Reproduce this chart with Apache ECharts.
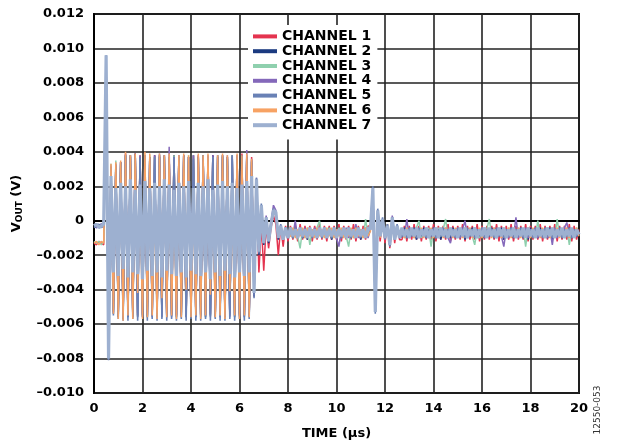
<!DOCTYPE html>
<html>
<head>
<meta charset="utf-8">
<script src="https://cdn.jsdelivr.net/npm/echarts@6/dist/echarts.min.js"></script>
<style>
  html, body { margin: 0; padding: 0; background: #fff; }
  #chart { width: 619px; height: 446px; }
</style>
</head>
<body>
<div id="chart"></div>
<script>
// time in µs, sampled every 0.1 µs
const TIME = [
  0, 0.1, 0.2, 0.3, 0.4, 0.5, 0.6, 0.7, 0.8, 0.9,
  1, 1.1, 1.2, 1.3, 1.4, 1.5, 1.6, 1.7, 1.8, 1.9,
  2, 2.1, 2.2, 2.3, 2.4, 2.5, 2.6, 2.7, 2.8, 2.9,
  3, 3.1, 3.2, 3.3, 3.4, 3.5, 3.6, 3.7, 3.8, 3.9,
  4, 4.1, 4.2, 4.3, 4.4, 4.5, 4.6, 4.7, 4.8, 4.9,
  5, 5.1, 5.2, 5.3, 5.4, 5.5, 5.6, 5.7, 5.8, 5.9,
  6, 6.1, 6.2, 6.3, 6.4, 6.5, 6.6, 6.7, 6.8, 6.9,
  7, 7.1, 7.2, 7.3, 7.4, 7.5, 7.6, 7.7, 7.8, 7.9,
  8, 8.1, 8.2, 8.3, 8.4, 8.5, 8.6, 8.7, 8.8, 8.9,
  9, 9.1, 9.2, 9.3, 9.4, 9.5, 9.6, 9.7, 9.8, 9.9,
  10, 10.1, 10.2, 10.3, 10.4, 10.5, 10.6, 10.7, 10.8, 10.9,
  11, 11.1, 11.2, 11.3, 11.4, 11.5, 11.6, 11.7, 11.8, 11.9,
  12, 12.1, 12.2, 12.3, 12.4, 12.5, 12.6, 12.7, 12.8, 12.9,
  13, 13.1, 13.2, 13.3, 13.4, 13.5, 13.6, 13.7, 13.8, 13.9,
  14, 14.1, 14.2, 14.3, 14.4, 14.5, 14.6, 14.7, 14.8, 14.9,
  15, 15.1, 15.2, 15.3, 15.4, 15.5, 15.6, 15.7, 15.8, 15.9,
  16, 16.1, 16.2, 16.3, 16.4, 16.5, 16.6, 16.7, 16.8, 16.9,
  17, 17.1, 17.2, 17.3, 17.4, 17.5, 17.6, 17.7, 17.8, 17.9,
  18, 18.1, 18.2, 18.3, 18.4, 18.5, 18.6, 18.7, 18.8, 18.9,
  19, 19.1, 19.2, 19.3, 19.4, 19.5, 19.6, 19.7, 19.8, 19.9,
  20
];

// VOUT per channel in mV (axis labels are shown in V)
const CH1 = [
  -1.3, -1.4, -1.2, -1.3, -1.4, 9.5, -7.9,
  3.1, -5.2, 3.2, -5.4, 3.4, -5.5, 3.9, -5.5, 3.8, -5.4, 3.9, -5.5, 3.8, -5.4, 3.8, -5.5, 3.7, -5.4, 3.8, -5.5, 3.8, -5.4, 3.8, -5.5, 3.7, -5.4, 3.8, -5.5, 3.8, -5.4,
  3.8, -5.5, 3.7, -5.4, 3.8, -5.5, 3.8, -5.4, 3.8, -5.5, 3.7, -5.4, 3.8, -5.5, 3.8, -5.4, 3.8, -5.5, 3.7, -5.4, 3.8, -5.5, 3.8, -5.4, 3.9, -5.5, 3.8, -5.4, 3.7,
  -4.4, 1.8, -3.0, -0.2, -2.9, -0.3, -1.6, -0.4, 0.3, -0.2, -2.0, -0.3, -1.5, -0.3, -1.2,
  -0.3, -1.1, -0.3, -1.2, -0.2, -1.1, -0.3, -1.1, -0.3, -1.2, -0.3, -1.1, -0.2, -1.1, -0.3, -1.2, -0.3, -1.1, -0.3, -1.1,
  -0.2, -1.2, -0.3, -1.1, -0.3, -1.1, -0.2, -1.2, -0.3, -1.1, -0.3, -1.1, -0.3,
  -0.4, 1.8, -5.2, 0.5, -1.2, 0.0, -1.3, -0.2, -1.6, 0.1, -1.3, -0.3, -1.1,
  -1.1, -0.3, -1.2, -0.3, -1.1, -0.2, -1.1, -0.3, -1.2, -0.3, -1.1, -0.3, -1.1, -0.2, -1.2, -0.3, -1.1, -0.3, -1.1, -0.2,
  -1.2, -0.3, -1.1, -0.3, -1.1, -0.2, -1.2, -0.3, -1.1, -0.3, -1.1, -0.2, -1.2, -0.3, -1.1, -0.3, -1.1,
  -0.3, -1.1, -0.2, -1.2, -0.3, -1.1, -0.3, -1.1, -0.2, -1.2, -0.3, -1.1, -0.3, -1.1, -0.2, -1.2, -0.3, -1.1, -0.3, -1.1,
  -0.2, -1.2, -0.3, -1.1, -0.3, -1.1, -0.2, -1.2, -0.3, -1.1, -0.3, -1.1, -0.2, -1.2, -0.3, -1.1, -0.5
];
const CH2 = [
  -0.3, -0.4, -0.3, -0.2, -0.3, 9.5, -8.0,
  3.1, -5.4, 3.2, -5.6, 3.4, -5.7, 3.8, -5.6, 3.8, -5.5, 3.9, -5.6, 3.7, -5.5, 3.0, -5.6, 3.7, -5.5, 3.8, -5.6, 3.7, -5.5, 3.8, -5.6, 3.7, -5.5, 3.8, -5.6, 3.7, -5.5,
  3.8, -5.6, 3.7, -5.5, 3.8, -5.6, 3.7, -5.5, 3.8, -5.6, 3.7, -5.5, 3.8, -5.6, 3.7, -5.5, 3.8, -5.6, 3.7, -5.5, 3.8, -5.6, 3.7, -5.5, 3.8, -5.6, 3.7, -5.5, 3.5,
  -4.4, 2.4, -2.0, 0.9, -1.4, 0.2, -1.3, -0.2, 0.6, 0.5, -1.1, -0.3, -1.1, -0.4, -1.0,
  -0.4, -1.0, -0.5, -0.9, -0.4, -1.0, -0.5, -1.1, -0.4, -0.9, -0.5, -1.0, -0.4, -0.9, -0.5, -1.0, -0.4, -1.1, -0.5, -0.9,
  -0.4, -1.0, -0.5, -0.9, -0.4, -1.0, -0.5, -0.9, -0.4, -1.1, -0.5, -0.9, -0.4,
  -0.5, 1.9, -5.3, 0.6, -1.0, 0.1, -1.0, -0.3, -1.4, 0.2, -1.1, -0.3, -1.0,
  -0.9, -0.4, -1.0, -0.5, -0.9, -0.4, -1.1, -0.5, -0.9, -0.4, -1.0, -0.5, -0.9, -0.4, -1.0, -0.5, -1.1, -0.4, -0.9, -0.5,
  -1.0, -0.4, -0.9, -0.5, -1.0, -0.4, -1.1, -0.5, -0.9, -0.4, -1.0, -0.5, -0.9, -0.4, -1.0, -0.5, -0.9,
  -0.4, -1.0, -0.5, -0.9, -0.4, -1.1, -0.5, -0.9, -0.4, -1.0, -0.5, -0.9, -0.4, -1.0, -0.5, -1.1, -0.4, -0.9, -0.5, -1.0,
  -0.4, -0.9, -0.5, -1.0, -0.4, -1.1, -0.5, -0.9, -0.4, -1.0, -0.5, -0.9, -0.4, -1.0, -0.5, -0.9, -0.7
];
const CH3 = [
  -1.2, -1.3, -1.2, -1.4, -1.2, 9.5, -7.9,
  3.3, -5.3, 3.5, -5.5, 3.3, -5.6, 3.8, -5.5, 3.8, -5.6, 3.8, -5.5, 3.7, -5.5, 3.8, -5.6, 3.8, -5.5, 3.7, -5.5, 3.8, -5.6, 3.8, -5.5, 3.7, -5.5, 3.8, -5.6, 3.8, -5.5,
  3.7, -5.5, 3.8, -5.6, 3.8, -5.5, 3.7, -5.5, 3.8, -5.6, 3.8, -5.5, 3.7, -5.5, 3.8, -5.6, 3.8, -5.5, 3.7, -5.5, 3.8, -5.6, 3.8, -5.5, 3.7, -5.5, 3.8, -5.6, 3.5,
  -4.1, 2.3, -1.7, 0.8, -1.2, 0.2, -1.1, -0.2, 0.5, 0.4, -0.9, -0.3, -1.0, -0.4, -1.0,
  -0.4, -1.0, -0.5, -0.9, -1.6, -0.5, -1.0, -0.4, -1.4, -0.5, -0.9, -0.4, 0.0, -1.0, -0.5, -0.9, -0.4, -1.0, -0.5, -0.9,
  -0.4, -1.0, -0.5, -0.9, -1.5, -0.5, -1.0, -0.4, -0.9, -0.5, -1.0, 0.1, -0.9,
  -0.3, 1.8, -5.2, 0.5, -0.9, 0.0, -1.0, -0.2, -1.4, 0.1, -1.0, -0.4, -0.9,
  -0.5, -1.0, -0.4, -0.9, -0.5, -1.0, -0.4, 0.0, -1.0, -0.5, -0.9, -0.4, -1.5, -0.5, -1.0, -0.4, -0.9, -0.5, 0.1, -1.0,
  -0.4, -0.9, -0.5, -1.0, -0.4, -0.9, -0.5, -1.0, -0.4, -0.9, -1.4, -0.5, -1.0, -0.4, -0.9, -0.5, 0.1,
  -0.9, -0.5, -1.0, -0.4, -0.9, -0.5, -1.0, -0.4, -0.9, -0.5, -1.0, -0.4, -0.9, -0.5, -1.5, -0.4, -0.9, -0.5, -1.0, 0.0,
  -0.9, -0.5, -1.0, -0.4, -0.9, -0.5, -1.0, 0.1, -0.9, -0.5, -1.0, -0.4, -1.4, -0.5, -0.9, -0.4, -0.8
];
const CH4 = [
  -0.2, -0.4, -0.3, -0.2, -0.4, 9.4, -7.9,
  3.2, -5.3, 3.3, -5.5, 3.4, -5.6, 3.9, -5.5, 3.8, -5.6, 3.9, -5.5, 3.8, -5.6, 3.8, -5.5, 3.7, -5.6, 3.8, -5.5, 3.9, -5.6, 3.8, -5.5, 4.3, -5.6, 3.7, -5.5, 3.8, -5.6,
  3.8, -5.5, 3.7, -5.6, 3.8, -5.5, 3.8, -5.6, 3.7, -5.5, 3.8, -5.6, 3.8, -5.5, 3.7, -5.6, 3.8, -5.5, 3.8, -5.6, 3.7, -5.5, 3.8, -5.6, 3.8, -5.5, 4.1, -5.6, 3.6,
  -4.3, 2.5, -1.7, 0.8, -1.2, 0.3, -1.1, -0.1, 0.9, 0.6, -1.0, -0.3, -1.0, -0.4, -1.0,
  -0.5, -0.9, 0.0, -1.0, -0.5, -0.9, -0.4, -1.0, -0.5, -0.9, -0.4, -1.0, -0.5, -0.9, -0.4, -1.0, -0.5, -0.9, -0.4, -1.0,
  -1.5, -0.5, -0.9, -0.4, -1.0, -0.5, -0.9, -0.2, -1.0, -0.5, -0.9, -0.4, -1.0,
  -0.5, 1.9, -5.2, 0.6, -1.0, 0.1, -0.9, -0.3, -1.3, 0.3, -1.1, -0.3, -1.0,
  -0.5, -0.9, 0.1, -1.0, -0.5, -0.9, -0.4, -1.0, -0.5, -0.9, -0.4, -1.0, -0.5, -0.9, -0.4, -1.0, -0.5, -0.9, -0.4, -1.0,
  -1.3, -0.5, -0.9, -0.4, -1.0, -0.5, 0.0, -1.0, -0.5, -0.9, -0.4, -1.0, -0.5, -0.9, -0.4, -1.0, -0.5,
  -0.9, -0.4, -1.0, -0.5, -0.9, -1.5, -0.5, -1.0, -0.4, -0.9, 0.2, -1.0, -0.5, -0.9, -0.4, -1.0, -0.5, -0.9, -0.4, -1.0,
  -0.5, -0.9, -0.4, -1.0, -0.5, -1.4, -0.4, -1.0, -0.5, -0.9, -0.4, -0.1, -1.0, -0.5, -0.9, -0.5, -0.8
];
const CH5 = [
  -0.4, -0.3, -0.2, -0.4, -0.3, 9.6, -8.1,
  3.1, -5.5, 3.2, -5.7, 3.4, -5.8, 3.8, -5.8, 3.7, -5.7, 3.8, -5.8, 3.7, -5.6, 3.8, -5.8, 3.6, -5.7, 3.7, -5.8, 3.8, -5.7, 3.7, -5.8, 3.6, -5.7, 3.7, -5.8, 3.7, -5.7,
  3.8, -5.8, 3.7, -5.7, 3.6, -5.8, 3.7, -5.8, 3.8, -5.7, 3.6, -5.8, 3.7, -5.7, 3.8, -5.8, 3.7, -5.8, 3.6, -5.7, 3.8, -5.8, 3.7, -5.7, 3.8, -5.8, 3.7, -5.7, 3.4,
  -4.5, 2.5, -1.9, 1.0, -1.3, 0.2, -1.2, -0.1, 0.7, 0.5, -1.0, -0.2, -1.1, -0.4, -0.9,
  -0.5, -1.0, -0.4, -0.9, -0.5, -1.0, -0.5, -0.9, -0.4, -1.0, -0.5, -0.9, -0.5, -1.0, -0.4, -0.9, -0.5, -1.0, -0.4, -0.9,
  -0.5, -1.0, -0.5, -0.9, -0.4, -1.0, -0.5, -0.9, -0.4, -1.0, -0.5, -0.9, -0.5,
  -0.4, 2.0, -5.4, 0.7, -0.8, 0.2, -1.1, -0.2, -1.5, 0.2, -1.0, -0.2, -1.0,
  -0.9, -0.5, -1.0, -0.4, -0.9, -0.5, -1.0, -0.4, -0.9, -0.5, -1.0, -0.5, -0.9, -0.4, -1.0, -0.5, -0.9, -0.4, -1.0, -0.5,
  -0.9, -0.5, -1.0, -0.4, -0.9, -0.5, -1.0, -0.4, -0.9, -0.5, -1.0, -0.5, -0.9, -0.4, -1.0, -0.5, -0.9,
  -0.5, -1.0, -0.4, -0.9, -0.5, -1.0, -0.5, -0.9, -0.4, -1.0, -0.5, -0.9, -0.4, -1.0, -0.5, -0.9, -0.5, -1.0, -0.4, -0.9,
  -0.5, -1.0, -0.4, -0.9, -0.5, -1.0, -0.5, -0.9, -0.4, -1.0, -0.5, -0.9, -0.4, -1.0, -0.5, -0.9, -0.7
];
const CH6 = [
  -1.3, -1.2, -1.4, -1.2, -1.3, 9.5, -7.8,
  3.3, -5.4, 3.4, -5.7, 3.5, -5.8, 4.0, -5.5, 3.8, -5.7, 3.9, -4.2, 1.2, -5.7, 4.0, -5.6, 3.9, -5.5, 1.0, -5.7, 3.9, -4.5, 3.8, -5.6, 3.9, -5.5, 1.4, -5.7, 3.8, -5.6,
  3.9, -4.0, 3.8, -5.6, 1.1, -5.5, 3.9, -5.7, 3.8, -5.5, 3.9, -4.3, 1.3, -5.6, 3.8, -5.5, 3.9, -5.7, 3.8, -4.1, 1.2, -5.5, 3.9, -5.7, 3.8, -5.5, 3.9, -5.6, 3.6,
  -3.9, 2.2, -1.6, 0.7, -1.1, 0.1, -1.0, -0.3, 0.5, 0.4, -0.9, -0.4, -1.0, -0.5, -0.9,
  -0.9, -0.4, -1.0, -0.5, -0.9, -0.4, -1.0, -0.4, -0.9, -0.5, -1.0, -0.4, -0.9, -0.5, -1.0, -0.4, -0.9, -0.4, -1.0, -0.5,
  -0.9, -0.4, -1.0, -0.5, -0.9, -0.4, -1.0, -0.4, -0.9, -0.5, -1.0, -0.4, -0.9,
  -0.6, 1.7, -5.1, 0.5, -1.0, 0.0, -0.9, -0.4, -1.3, 0.1, -1.0, -0.4, -0.9,
  -0.5, -1.0, -0.4, -0.9, -0.5, -1.0, -0.4, -0.9, -0.4, -1.0, -0.5, -0.9, -0.4, -1.0, -0.5, -0.9, -0.4, -1.0, -0.4, -0.9,
  -0.5, -1.0, -0.4, -0.9, -0.5, -1.0, -0.4, -0.9, -0.4, -1.0, -0.5, -0.9, -0.4, -1.0, -0.5, -0.9, -0.5,
  -1.0, -0.4, -0.9, -0.5, -1.0, -0.4, -0.9, -0.4, -1.0, -0.5, -0.9, -0.4, -1.0, -0.5, -0.9, -0.4, -1.0, -0.4, -0.9, -0.5,
  -1.0, -0.4, -0.9, -0.5, -1.0, -0.4, -0.9, -0.4, -1.0, -0.5, -0.9, -0.4, -1.0, -0.5, -0.9, -0.4, -0.9
];
const CH7 = [
  -0.3, -0.2, -0.4, -0.3, -0.2, 9.6, -8.0,
  2.6, -3.0, 1.9, -3.2, 2.2, -2.8, 2.0, -3.3, 2.4, -3.0, 1.8, -3.1, 2.1, -3.4, 2.3, -2.9, 1.9, -3.2, 2.2, -3.0, 2.0, -3.3, 2.4, -2.9, 2.1, -3.1, 1.8, -3.2, 2.2, -3.0,
  2.0, -3.3, 2.3, -2.9, 1.9, -3.1, 2.2, -3.2, 2.0, -3.0, 2.4, -3.4, 1.8, -3.0, 2.1, -3.2, 2.3, -2.9, 2.0, -3.1, 2.2, -3.3, 1.9, -3.0, 2.1, -3.2, 2.3, -3.0, 2.6,
  -4.2, 2.4, -1.8, 0.9, -1.3, 0.2, -1.2, -0.2, 0.6, 0.5, -1.0, -0.3, -1.1, -0.4, -1.0,
  -0.4, -0.9, -0.5, -1.0, -0.4, -0.9, -0.5, -1.0, -0.4, -0.9, -0.5, -1.0, -0.4, -0.9, -0.4, -1.0, -0.5, -0.9, -0.4, -1.0,
  -0.5, -0.9, -0.4, -1.0, -0.4, -0.9, -0.5, -1.0, -0.4, -0.9, -0.5, -1.0, -0.4,
  -0.5, 1.9, -5.3, 0.6, -0.9, 0.1, -1.0, -0.3, -1.4, 0.2, -1.1, -0.3, -1.0,
  -0.4, -0.9, -0.5, -1.0, -0.4, -0.9, -0.4, -1.0, -0.5, -0.9, -0.4, -1.0, -0.5, -0.9, -0.4, -1.0, -0.4, -0.9, -0.5, -1.0,
  -0.4, -0.9, -0.5, -1.0, -0.4, -0.9, -0.4, -1.0, -0.5, -0.9, -0.4, -1.0, -0.5, -0.9, -0.4, -1.0, -0.4,
  -0.9, -0.5, -1.0, -0.4, -0.9, -0.4, -1.0, -0.5, -0.9, -0.4, -1.0, -0.5, -0.9, -0.4, -1.0, -0.4, -0.9, -0.5, -1.0, -0.4,
  -0.9, -0.5, -1.0, -0.4, -0.9, -0.4, -1.0, -0.5, -0.9, -0.4, -1.0, -0.5, -0.9, -0.4, -1.0, -0.5, -0.8
];

const CHANNEL_NAMES = ['CHANNEL 1', 'CHANNEL 2', 'CHANNEL 3', 'CHANNEL 4', 'CHANNEL 5', 'CHANNEL 6', 'CHANNEL 7'];
const CHANNEL_VALUES = [CH1, CH2, CH3, CH4, CH5, CH6, CH7];
const COLORS = ['#E4344F', '#1B3A80', '#8FD0AE', '#8468BA', '#6981B5', '#F7A263', '#9DB0D0'];
const WIDTHS = [1.5, 1.5, 1.5, 1.5, 1.6, 1.5, 3.2];

const Y_TICKS = [-10, -8, -6, -4, -2, 0, 2, 4, 6, 8, 10, 12];
const Y_TICK_LABELS = ['\u20130.010', '\u20130.008', '\u20130.006', '\u20130.004', '\u20130.002', '0',
  '0.002', '0.004', '0.006', '0.008', '0.010', '0.012'];

const FONT = 'DejaVu Sans';
const chart = echarts.init(document.getElementById('chart'));

const series = CHANNEL_NAMES.map((name, c) => ({
  name: name,
  type: 'line',
  data: TIME.map((t, k) => [t, CHANNEL_VALUES[c][k]]),
  showSymbol: false,
  symbol: 'none',
  lineStyle: { color: COLORS[c], width: WIDTHS[c], join: 'bevel' },
  itemStyle: { color: COLORS[c] },
  z: 2 + c
}));

const option = {
  animation: false,
  textStyle: { fontFamily: FONT },
  grid: {
    left: 94, right: 40, top: 14, bottom: 53,
    show: true, borderColor: '#111', borderWidth: 2, backgroundColor: 'transparent'
  },
  legend: {
    orient: 'vertical',
    left: 248, top: 25,
    padding: [4, 6, 7, 5],
    backgroundColor: '#fff',
    icon: 'rect',
    itemWidth: 24, itemHeight: 4,
    itemGap: 0,
    textStyle: { fontFamily: FONT, fontWeight: 'bold', fontSize: 14, color: '#000', lineHeight: 14.8 },
    data: CHANNEL_NAMES
  },
  xAxis: {
    type: 'value',
    min: 0, max: 20, interval: 2,
    name: 'TIME (\u00b5s)',
    nameLocation: 'middle',
    nameGap: 34,
    nameTextStyle: { fontFamily: FONT, fontWeight: 'bold', fontSize: 13, color: '#000' },
    axisLine: { show: true, lineStyle: { color: '#000', width: 2 } },
    axisTick: { show: false },
    axisLabel: { fontFamily: FONT, fontWeight: 'bold', fontSize: 13, color: '#000', margin: 9 },
    splitLine: { show: true, lineStyle: { color: '#222', width: 1.6 } }
  },
  yAxis: {
    type: 'value',
    min: -10, max: 12, interval: 2,
    name: '{v|V}{s|OUT}{v| (V)}',
    nameLocation: 'middle',
    nameRotate: 90,
    nameGap: 70,
    nameTextStyle: {
      rich: {
        v: { fontFamily: FONT, fontWeight: 'bold', fontSize: 13, color: '#000' },
        s: { fontFamily: FONT, fontWeight: 'bold', fontSize: 9, color: '#000', padding: [5, 0, 0, 0] }
      }
    },
    axisLine: { show: true, lineStyle: { color: '#000', width: 2 } },
    axisTick: { show: false },
    axisLabel: {
      fontFamily: FONT, fontWeight: 'bold', fontSize: 13, color: '#000', margin: 10,
      formatter: v => Y_TICK_LABELS[Y_TICKS.indexOf(v)]
    },
    splitLine: { show: true, lineStyle: { color: '#222', width: 1.6 } }
  },
  graphic: [{
    type: 'text',
    x: 598, y: 410,
    rotation: Math.PI / 2,
    style: {
      text: '12550-053', fontFamily: FONT, fontSize: 9, fill: '#333',
      align: 'center', verticalAlign: 'middle'
    }
  }],
  series: series
};

chart.setOption(option);
</script>
</body>
</html>
